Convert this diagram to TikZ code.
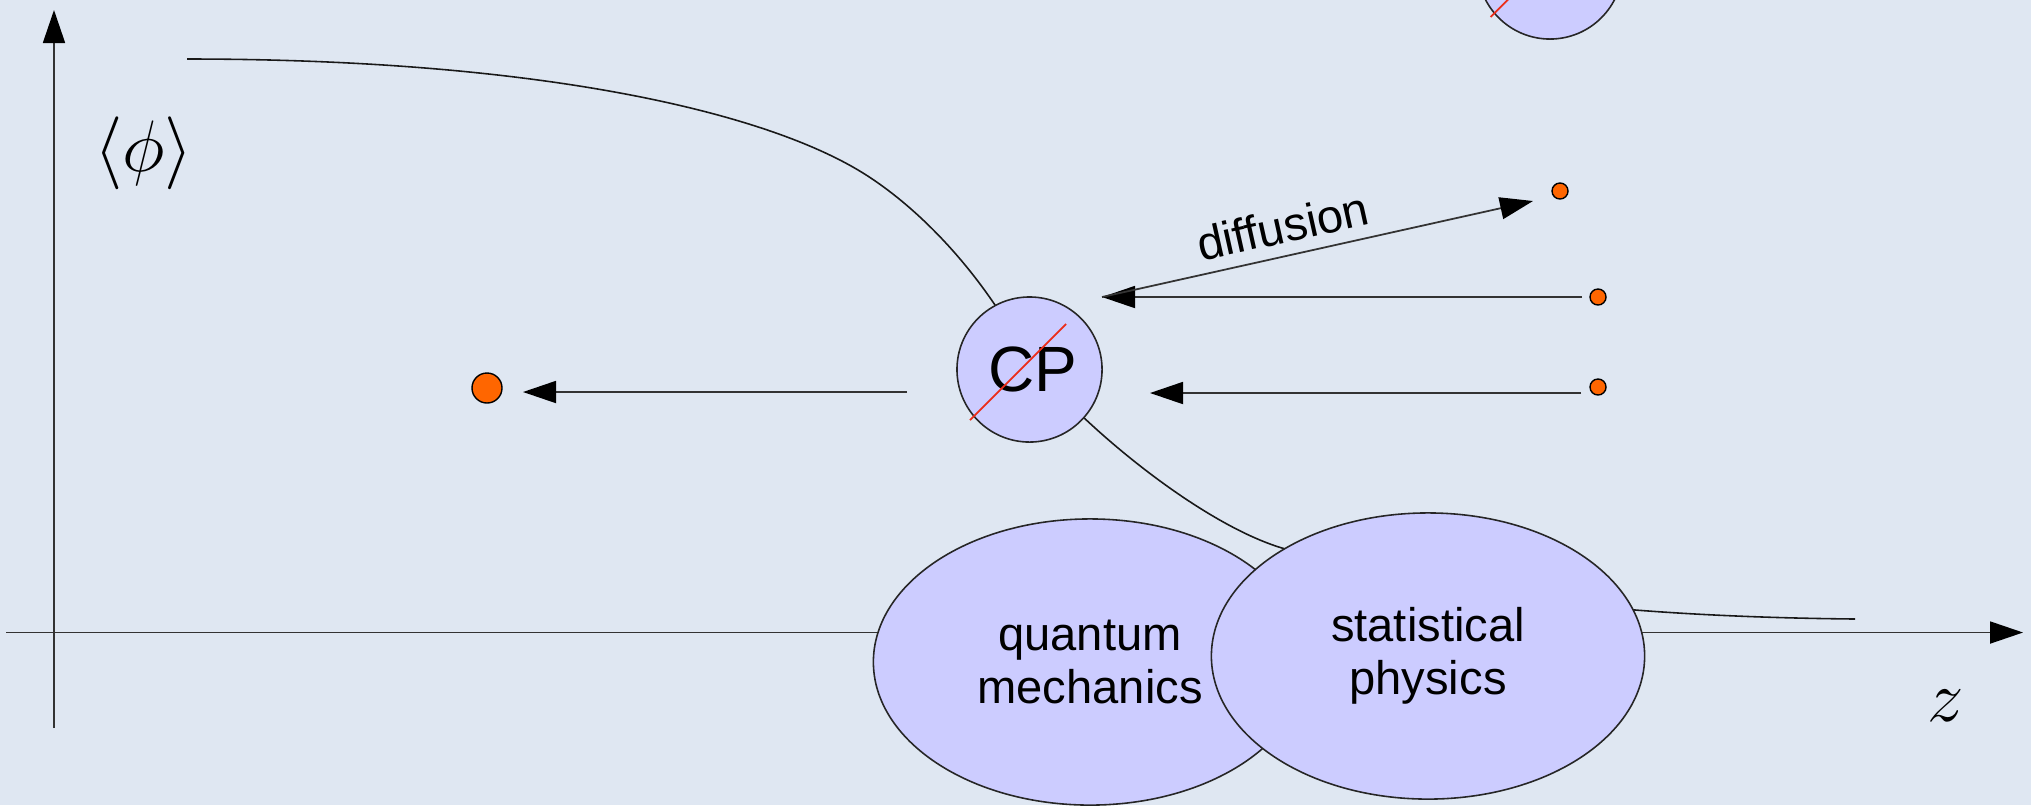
\documentclass[tikz,border=0pt]{standalone}
\usepackage{fontspec}
\setmainfont{Liberation Sans}
\usetikzlibrary{arrows.meta,shapes.geometric}
\definecolor{bg}{RGB}{223,231,242}
\definecolor{lav}{RGB}{204,204,255}
\definecolor{dotorange}{RGB}{255,102,0}
\definecolor{redline}{RGB}{235,45,25}
\begin{document}
\begin{tikzpicture}[x=0.01cm,y=-0.01cm,
  conn/.style={line width=0.5pt, draw=black!80},
  tip/.style={-{Triangle[length=0.33cm,width=0.22cm,color=black]}},
  curveline/.style={line width=0.45pt, draw=black!90},
  lavcircle/.style={circle, draw=black!85, line width=0.45pt, fill=lav, minimum size=1.45cm, inner sep=0pt},
  lavell/.style={ellipse, draw=black!85, line width=0.45pt, fill=lav, minimum width=4.33cm, minimum height=2.86cm, inner sep=0pt, align=center, font=\fontsize{13.4pt}{15.1pt}\selectfont},
  dot/.style={circle, draw=black, line width=0.4pt, fill=dotorange, minimum size=0.16cm, inner sep=0pt},
  bigdot/.style={dot, minimum size=0.3cm},
  slash/.style={draw=redline, line width=0.5pt},
  lbl/.style={font=\fontsize{13.4pt}{15.1pt}\selectfont},
  mathlbl/.style={font=\fontsize{20.5pt}{24pt}\selectfont}]
\useasboundingbox (0,0) rectangle (2031,805);
\fill[bg] (0,0) rectangle (2031,805);
\clip (0,0) rectangle (2031,805);
% axes
\coordinate (yb) at (54,728);
\coordinate (yt) at (54,10);
\draw[conn,tip] (yb) -- (yt);
\coordinate (xl) at (6,632.5);
\coordinate (xr) at (2023,632.5);
\draw[conn,tip] (xl) -- (xr);
\node[mathlbl] (phi) at (143.5,153.5) {$\langle\phi\rangle$};
\node[mathlbl] (zlab) at (1946,706) {$z$};
% order-parameter curve
\coordinate (c0) at (187,59);
\coordinate (c1) at (863,173);
\coordinate (c2) at (997,308);
\coordinate (c3) at (1081,415);
\coordinate (c4) at (1282,548);
\coordinate (c5) at (1855,619);
\draw[curveline] (c0) .. controls (537,59) and (763,111) .. (c1)
  .. controls (908,201) and (957,248) .. (c2);
\draw[curveline] (c3) .. controls (1141,472) and (1222,530) .. (c4)
  .. controls (1432,593) and (1605,616.5) .. (c5);
% circles
\node[lavcircle, font=\fontsize{18.2pt}{22pt}\selectfont] (cp) at (1029.5,369.5) {\hspace*{0.07cm}CP};
\draw[slash] ([shift={(-59.5,50.5)}]cp.center) -- ([shift={(36.5,-45.5)}]cp.center);
\node[lavcircle] (cptop) at (1550,-33.5) {};
\draw[slash] ([shift={(-59.5,50.5)}]cptop.center) -- ([shift={(36.5,-45.5)}]cptop.center);
% dots
\node[dot] (d1) at (1560,191) {};
\node[dot] (d2) at (1598,297) {};
\node[dot] (d3) at (1598,387) {};
\node[bigdot] (d0) at (487,388) {};
% arrows
\coordinate (a1s) at (1582,297);
\coordinate (a1e) at (1102,297);
\draw[conn,tip] (a1s) -- (a1e);
\coordinate (a2s) at (1581,393);
\coordinate (a2e) at (1150,393);
\draw[conn,tip] (a2s) -- (a2e);
\coordinate (a3s) at (907,392);
\coordinate (a3e) at (523,392);
\draw[conn,tip] (a3s) -- (a3e);
\coordinate (dfe) at (1533,201);
\draw[conn,tip] (a1e) -- node[lbl, pos=0.434, sloped, above] (dlab) {diffusion} (dfe);
% ellipses
\node[lavell] (qm) at (1090,662) {quantum\\mechanics};
\node[lavell] (sp) at (1428,656) {statistical\\physics};
\end{tikzpicture}
\end{document}
